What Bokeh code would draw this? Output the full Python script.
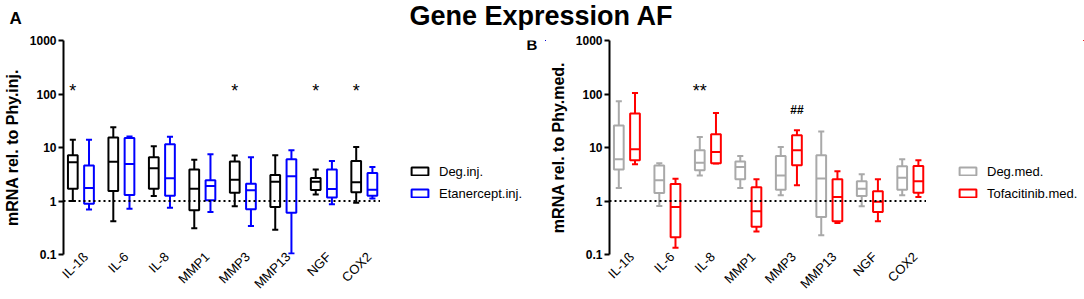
import math
import numpy as np
from bokeh.plotting import figure
from bokeh.models import (Range1d, FixedTicker, NumeralTickFormatter, Span, Legend,
                          LegendItem, Label, ColumnDataSource)
from bokeh.layouts import column, row
from bokeh.embed import file_html
from bokeh.resources import INLINE
from bokeh.core.properties import value

# ---------------- data ----------------
genes = ["IL-1ß", "IL-6", "IL-8", "MMP1", "MMP3", "MMP13", "NGF", "COX2"]

# Panel A
deg_inj_min = [1.0, 0.42, 1.24, 0.31, 0.80, 0.29, 1.32, 0.93]
deg_inj_q1 = [1.7, 1.54, 1.7, 0.67, 1.43, 0.77, 1.6, 1.46]
deg_inj_med = [5.3, 5.4, 4.1, 1.7, 2.5, 2.3, 2.3, 2.24]
deg_inj_q3 = [7.2, 15.3, 6.6, 3.9, 5.45, 3.06, 2.7, 5.6]
deg_inj_max = [14, 24, 10.5, 5.9, 7.05, 7.2, 3.9, 10.2]

eta_inj_min = [0.69, 0.72, 0.75, 0.62, 0.34, 0.104, 0.87, 1.11]
eta_inj_q1 = [0.89, 1.3, 1.26, 1.03, 0.7, 0.6, 1.16, 1.26]
eta_inj_med = [1.75, 4.9, 2.65, 1.9, 1.58, 2.9, 1.68, 1.63]
eta_inj_q3 = [4.6, 15, 11.5, 2.44, 2.1, 6.0, 3.9, 3.34]
eta_inj_max = [14, 16, 15.8, 7.5, 6.6, 8.9, 5.6, 4.3]

sig_a = ["*", "", "", "", "*", "", "*", "*"]

# Panel B
deg_med_min = [1.75, 0.81, 3.0, 1.75, 1.28, 0.23, 0.8, 1.28]
deg_med_q1 = [3.9, 1.41, 3.75, 2.54, 1.63, 0.5, 1.24, 1.63]
deg_med_med = [6.0, 2.44, 5.2, 4.3, 3.0, 2.62, 1.7, 2.73]
deg_med_q3 = [25.7, 4.6, 8.9, 5.45, 6.9, 7.15, 2.33, 4.45]
deg_med_max = [73, 5.07, 15.7, 6.9, 10.2, 20, 3.15, 6.0]

tof_med_min = [4.85, 0.133, 5.0, 0.27, 1.96, 0.39, 0.42, 1.19]
tof_med_q1 = [5.76, 0.21, 5.1, 0.33, 4.65, 0.42, 0.62, 1.43]
tof_med_med = [9.25, 0.77, 8.2, 0.64, 8.9, 1.19, 0.97, 2.33]
tof_med_q3 = [43, 2.08, 17.7, 1.8, 16.9, 2.54, 1.52, 4.5]
tof_med_max = [104, 2.6, 44, 2.54, 21, 3.6, 2.54, 5.76]

sig_b_star = ["", "", "**", "", "", "", "", ""]
sig_b_hash = ["", "", "", "", "##", "", "", ""]

y_ticks = [0.1, 1, 10, 100, 1000]

# ---------------- style ----------------
FONT = "Liberation Sans"
BOX_W = 0.24
CAP_W = 0.15
DODGE = 0.2
LABEL_SHIFT = 0.12
STAR_Y = 115
HASH_Y = 50
PANEL_H = 269
HDR_H = 30


def series_source(xs, lo, q1, med, q3, hi):
    return ColumnDataSource(dict(
        x=xs, lo=lo, q1=q1, med=med, q3=q3, hi=hi,
        cl=xs - CAP_W / 2, cr=xs + CAP_W / 2,
        bl=xs - BOX_W / 2, br=xs + BOX_W / 2))


def draw_series(p, src, color):
    p.segment(x0="x", y0="q3", x1="x", y1="hi", source=src, line_color=color, line_width=2)
    p.segment(x0="x", y0="q1", x1="x", y1="lo", source=src, line_color=color, line_width=2)
    p.segment(x0="cl", y0="hi", x1="cr", y1="hi", source=src, line_color=color, line_width=2)
    p.segment(x0="cl", y0="lo", x1="cr", y1="lo", source=src, line_color=color, line_width=2)
    p.vbar(x="x", width=BOX_W, bottom="q1", top="q3", source=src,
           fill_color="white", line_color=color, line_width=2)
    p.segment(x0="bl", y0="med", x1="br", y1="med", source=src, line_color=color, line_width=2)


def make_panel(ylabel, s1, c1, s2, c2):
    n = len(genes)
    idx = np.arange(n, dtype=float)
    p = figure(width=380, height=PANEL_H, title=None,
               x_range=Range1d(-0.43, n - 0.6), y_range=Range1d(0.1, 1000),
               y_axis_type="log", output_backend="svg", toolbar_location=None,
               min_border_left=62, min_border_right=0,
               min_border_top=10, min_border_bottom=45)
    p.grid.visible = False
    p.outline_line_color = None

    ya = p.yaxis[0]
    ya.ticker = FixedTicker(ticks=y_ticks)
    ya.formatter = NumeralTickFormatter(format="0.[0]")
    ya.axis_line_width = 2
    ya.axis_line_color = "black"
    ya.major_tick_line_width = 2
    ya.major_tick_line_color = "black"
    ya.major_tick_out = 5
    ya.major_tick_in = 0
    ya.minor_tick_line_color = None
    ya.major_label_text_font = FONT
    ya.major_label_text_font_style = "bold"
    ya.major_label_text_font_size = "12px"
    ya.major_label_text_color = "black"
    ya.major_label_standoff = 2
    ya.axis_label = ylabel
    ya.axis_label_text_font = FONT
    ya.axis_label_text_font_style = "bold"
    ya.axis_label_text_font_size = "16px"
    ya.axis_label_text_color = "black"
    ya.axis_label_standoff = 6

    # gene labels, anchored slightly right of each group's centre
    tick_pos = [round(i + LABEL_SHIFT, 2) for i in range(n)]
    xa = p.xaxis[0]
    xa.ticker = FixedTicker(ticks=tick_pos)
    xa.major_label_overrides = {t: g for t, g in zip(tick_pos, genes)}
    xa.major_label_orientation = math.pi / 4
    xa.axis_line_color = None
    xa.major_tick_line_color = None
    xa.major_tick_out = 0
    xa.major_tick_in = 0
    xa.minor_tick_line_color = None
    xa.minor_tick_out = 0
    xa.major_label_text_font = FONT
    xa.major_label_text_font_size = "13px"
    xa.major_label_text_color = "black"
    xa.major_label_standoff = 0

    p.add_layout(Span(location=1, dimension="width", line_color="black",
                      line_width=2, line_dash="2 3"))

    src1 = series_source(idx - DODGE, *s1)
    src2 = series_source(idx + DODGE, *s2)
    draw_series(p, src1, c1)
    draw_series(p, src2, c2)
    return p, idx, src1, src2


def make_legend_fig(width, sources, names, colors, leg_x):
    # legend panel; its boxes use the same data but lie outside this panel's view
    f = figure(width=width, height=PANEL_H, title=None,
               x_range=Range1d(-100, -99), y_range=Range1d(-100, -99),
               output_backend="svg", toolbar_location=None, min_border=0,
               x_axis_location=None, y_axis_location=None)
    f.grid.visible = False
    f.outline_line_color = None
    items = []
    for src, nm, c in zip(sources, names, colors):
        r = f.vbar(x="x", width=BOX_W, top="q3", bottom="q1", source=src,
                   fill_color="white", line_color=c, line_width=2)
        items.append(LegendItem(label=nm, renderers=[r]))
    leg = Legend(items=items, location=(leg_x, 51), orientation="vertical",
                 glyph_width=21, glyph_height=10, label_height=20, spacing=2,
                 label_standoff=9, padding=5, margin=0,
                 label_text_font=FONT, label_text_font_size="13px",
                 label_text_color="black",
                 border_line_color=None, background_fill_alpha=0)
    f.add_layout(leg)
    return f


p1, idx, a1, a2 = make_panel("mRNA rel. to Phy.inj.",
                             (deg_inj_min, deg_inj_q1, deg_inj_med, deg_inj_q3, deg_inj_max), "black",
                             (eta_inj_min, eta_inj_q1, eta_inj_med, eta_inj_q3, eta_inj_max), "#0000FF")
p2, _, b1, b2 = make_panel("mRNA rel. to Phy.med.",
                           (deg_med_min, deg_med_q1, deg_med_med, deg_med_q3, deg_med_max), "#A9A9A9",
                           (tof_med_min, tof_med_q1, tof_med_med, tof_med_q3, tof_med_max), "#FF0000")

l1 = make_legend_fig(166, [a1, a2], ["Deg.inj.", "Etanercept.inj."], ["black", "#0000FF"], 29)
l2 = make_legend_fig(158, [b1, b2], ["Deg.med.", "Tofacitinib.med."], ["#A9A9A9", "#FF0000"], 31)

# significance marks
p1.text(x=idx - DODGE, y=[STAR_Y] * len(genes), text=sig_a, text_align="center",
        text_baseline="middle", text_font=value(FONT), text_font_size="18px", text_color="black")
p2.text(x=idx - DODGE, y=[STAR_Y] * len(genes), text=sig_b_star, text_align="center",
        text_baseline="middle", text_font=value(FONT), text_font_size="18px", text_color="black")
p2.text(x=idx + DODGE, y=[HASH_Y] * len(genes), text=sig_b_hash, text_align="center",
        text_baseline="middle", text_font=value(FONT), text_font_size="12px",
        text_font_style="bold", text_color="black")

# panel letter B
l1.add_layout(Label(x=146, y=210, x_units="screen", y_units="screen", text="B",
                    text_font=FONT, text_font_size="15px", text_font_style="bold",
                    text_color="black", text_baseline="alphabetic"))

# header with title and panel letter A
hdr = figure(width=1084, height=HDR_H, title=None,
             x_range=Range1d(0, 1084), y_range=Range1d(0, HDR_H),
             output_backend="svg", toolbar_location=None, min_border=0,
             x_axis_location=None, y_axis_location=None)
hdr.grid.visible = False
hdr.outline_line_color = None
hdr.add_layout(Label(x=541, y=14.5, text="Gene Expression AF", text_align="center",
                     text_baseline="alphabetic", text_font=FONT, text_font_size="27px",
                     text_font_style="bold", text_color="black"))
hdr.add_layout(Label(x=9, y=12, text="A", text_align="left", text_baseline="alphabetic",
                     text_font=FONT, text_font_size="17px", text_font_style="bold",
                     text_color="black"))

layout = column(hdr, row(p1, l1, p2, l2, spacing=0), spacing=0)
open("out.html", "w").write(file_html(layout, INLINE))
